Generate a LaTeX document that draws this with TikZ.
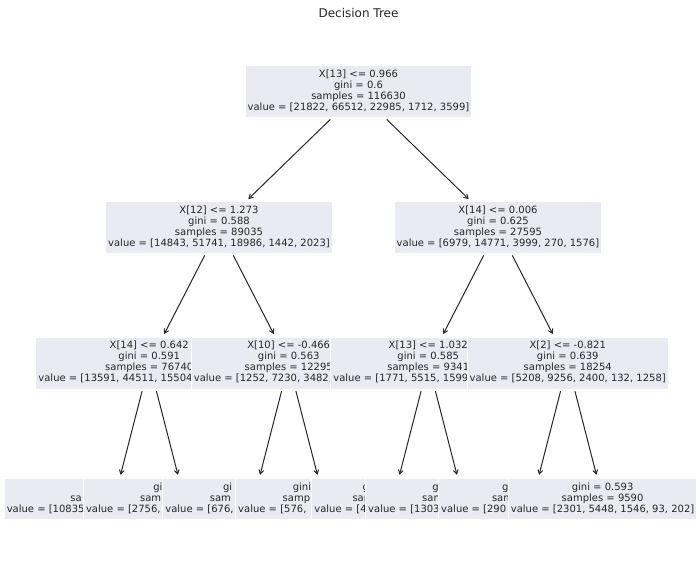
\documentclass[tikz,border=0pt]{standalone}
\usepackage{fontspec}
\setmainfont{DejaVu Sans}
\usetikzlibrary{arrows.meta}
\definecolor{boxfill}{HTML}{EAEAF2}
\definecolor{ink}{HTML}{262626}
% four-line split node and three-line leaf node contents
\newcommand\splittext[4]{\strut#1\\#2\\#3\\#4\strut}
\newcommand\leaftext[3]{\strut#1\\#2\\#3\strut}
\begin{document}
\begin{tikzpicture}[x=0.75pt,y=-0.75pt,
  treebox/.style={fill=boxfill,draw=white,line width=0.75pt,
    inner xsep=1.9pt,inner ysep=3pt,outer sep=0pt,align=center,
    text=ink,font=\fontsize{7.5pt}{8.25pt}\selectfont},
  link/.style={draw=ink,line width=0.75pt,
    -{Straight Barb[length=3pt,width=3.6pt]},
    shorten <=1.5pt,shorten >=2.7pt}]
\useasboundingbox (0,0) rectangle (700,574);
\node[text=ink,font=\fontsize{9pt}{11pt}\selectfont] (title) at (358.5,13) {Decision Tree};
% nodes in pre-order; later boxes lie over earlier ones
\node[treebox] (n0) at (358.5,92) {\splittext{X[13] <= 0.966}{gini = 0.6}{samples = 116630}{value = [21822, 66512, 22985, 1712, 3599]}};
\node[treebox] (n1) at (219,227.6) {\splittext{X[12] <= 1.273}{gini = 0.588}{samples = 89035}{value = [14843, 51741, 18986, 1442, 2023]}};
\node[treebox] (n2) at (149.25,363.2) {\splittext{X[14] <= 0.642}{gini = 0.591}{samples = 76740}{value = [13591, 44511, 15504\hphantom{, 0000, 0000]}}};
\node[treebox] (n3) at (114.4,498.8) {\leaftext{\hphantom{gini = 0.000}}{sa\hphantom{mples = 00000}}{value = [10835\hphantom{, 00000, 00000, 0000, 000]}}};
\node[treebox] (n4) at (184.1,498.8) {\leaftext{gi\hphantom{ni = 0.000}}{sam\hphantom{ples = 00000}}{value = [2756, \hphantom{00000, 0000, 000, 000]}}};
\node[treebox] (n5) at (288.75,363.2) {\splittext{X[10] <= -0.466}{gini = 0.563}{samples = 12295}{value = [1252, 7230, 3482, \hphantom{000, 000]}}};
\node[treebox] (n6) at (253.9,498.8) {\leaftext{gi\hphantom{ni = 0.000}}{sam\hphantom{ples = 00000}}{value = [676, \hphantom{0000, 0000, 00, 000]}}};
\node[treebox] (n7) at (323.6,498.8) {\leaftext{gini \hphantom{= 0.000}}{samp\hphantom{les = 0000}}{value = [576, \hphantom{000, 000, 000, 000]}}};
\node[treebox] (n8) at (498,227.6) {\splittext{X[14] <= 0.006}{gini = 0.625}{samples = 27595}{value = [6979, 14771, 3999, 270, 1576]}};
\node[treebox] (n9) at (428.25,363.2) {\splittext{X[13] <= 1.032}{gini = 0.585}{samples = 9341}{value = [1771, 5515, 1599\hphantom{, 000, 000]}}};
\node[treebox] (n10) at (393.4,498.8) {\leaftext{g\hphantom{ini = 0.000}}{sam\hphantom{ples = 0000}}{value = [4\hphantom{00, 0000, 000, 00, 0]}}};
\node[treebox] (n11) at (463.1,498.8) {\leaftext{g\hphantom{ini = 0.000}}{sam\hphantom{ples = 0000}}{value = [1303\hphantom{, 0000, 0000, 000, 000]}}};
\node[treebox] (n12) at (567.75,363.2) {\splittext{X[2] <= -0.821}{gini = 0.639}{samples = 18254}{value = [5208, 9256, 2400, 132, 1258]}};
\node[treebox] (n13) at (532.9,498.8) {\leaftext{g\hphantom{ini = 0.000}}{sam\hphantom{ples = 0000}}{value = [290\hphantom{0, 0000, 000, 00, 0000]}}};
\node[treebox] (n14) at (602.6,498.8) {\leaftext{gini = 0.593}{samples = 9590}{value = [2301, 5448, 1546, 93, 202]}};
% connectors, parent to child
\draw[link] (n0) -- (n1);
\draw[link] (n0) -- (n8);
\draw[link] (n1) -- (n2);
\draw[link] (n1) -- (n5);
\draw[link] (n2) -- (n3);
\draw[link] (n2) -- (n4);
\draw[link] (n5) -- (n6);
\draw[link] (n5) -- (n7);
\draw[link] (n8) -- (n9);
\draw[link] (n8) -- (n12);
\draw[link] (n9) -- (n10);
\draw[link] (n9) -- (n11);
\draw[link] (n12) -- (n13);
\draw[link] (n12) -- (n14);
\end{tikzpicture}
\end{document}
